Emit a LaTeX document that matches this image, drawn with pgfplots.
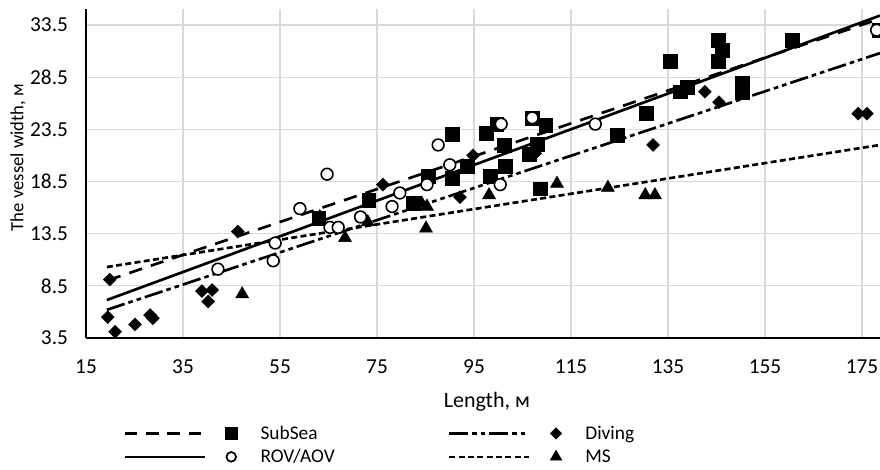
\documentclass[border=0pt]{standalone}
\usepackage{pgfplots}
\pgfplotsset{compat=1.18}
\usepackage{fontspec}
\setmainfont{Carlito}
\definecolor{gridgray}{RGB}{217,217,217}
\newcommand{\fs}{\fontsize{14.5pt}{16pt}\selectfont}
\newcommand{\ft}{\fontsize{16pt}{18pt}\selectfont}
\begin{document}
\begin{tikzpicture}
\begin{axis}[
  scale only axis,
  width=595.5pt, height=246.5pt,
  xmin=15, xmax=178.7, ymin=3.5, ymax=35,
  axis x line=bottom, axis y line=left,
  axis line style={line width=2pt, -},
  xtick={15,35,...,175},
  ytick={3.5,8.5,13.5,18.5,23.5,28.5,33.5},
  major tick length=0pt,
  grid=major,
  major grid style={gridgray, line width=0.9pt},
  /pgf/number format/assume math mode=true,
  yticklabel={\pgfmathprintnumber[fixed,fixed zerofill,precision=1]{\tick}},
  xticklabel={\pgfmathprintnumber[fixed,precision=0]{\tick}},
  tick label style={font=\ft},
  yticklabel style={xshift=-10pt},
  xticklabel style={yshift=-13pt},
  xlabel={Length, м},
  ylabel={The vessel width, м},
  xlabel style={font=\fontsize{16.5pt}{18pt}\selectfont, at={(axis description cs:0.505,-0.193)}, anchor=center},
  ylabel style={font=\fontsize{14pt}{16pt}\selectfont, at={(axis description cs:-0.0856,0.549)}, anchor=center},
  legend columns=2,
  legend style={draw=none, fill=none, font=\fs,
    at={(axis description cs:0.0466,-0.258)}, anchor=north west,
    inner sep=0pt,
    /tikz/every even column/.append style={column sep=83pt},
    row sep=2pt},
  legend cell align=left,
  clip marker paths=false,
]
% legend images
\addlegendimage{legend image code/.code={
  \draw[line width=2pt, dash pattern=on 9.5pt off 6.5pt] (0pt,0pt) -- (60pt,0pt);
  \draw[mark=square*, mark size=4.5pt] plot coordinates {(80pt,0pt)};
  \path[draw=none, fill=none] (0pt,0pt) -- (100pt,0pt);}}
\addlegendentry{SubSea}
\addlegendimage{legend image code/.code={
  \draw[line width=2pt, dash pattern=on 14pt off 3pt on 3.5pt off 3pt on 3.5pt off 3pt] (0pt,0pt) -- (60pt,0pt);
  \draw[mark=square*, mark size=3pt, mark options={rotate=45}] plot coordinates {(80pt,0pt)};
  \path[draw=none, fill=none] (0pt,0pt) -- (100pt,0pt);}}
\addlegendentry{Diving}
\addlegendimage{legend image code/.code={
  \draw[line width=2pt] (0pt,0pt) -- (60pt,0pt);
  \draw[mark=o, mark size=3.6pt, line width=1.3pt] plot coordinates {(80pt,0pt)};
  \path[draw=none, fill=none] (0pt,0pt) -- (100pt,0pt);}}
\addlegendentry{ROV/AOV}
\addlegendimage{legend image code/.code={
  \draw[line width=2pt, dash pattern=on 4.5pt off 2.5pt] (0pt,0pt) -- (60pt,0pt);
  \draw[mark=triangle*, mark size=5pt] plot coordinates {(80pt,0pt)};
  \path[draw=none, fill=none] (0pt,0pt) -- (100pt,0pt);}}
\addlegendentry{MS}

% trend lines
\addplot[forget plot, black, line width=2pt, dash pattern=on 10pt off 7pt] coordinates {(19.5,9.03) (178.7,34.1)};
\addplot[forget plot, black, line width=2pt] coordinates {(19.3,7.14) (178.7,34.4)};
\addplot[forget plot, black, line width=2pt, dash pattern=on 14pt off 3pt on 3.5pt off 3pt on 3.5pt off 3pt] coordinates {(19.3,6.2) (178.7,30.8)};
\addplot[forget plot, black, line width=2pt, dash pattern=on 4.5pt off 2.5pt] coordinates {(19.3,10.3) (178.7,22.0)};

% SubSea
\addplot[forget plot, only marks, mark=square*, mark size=5.2pt, black] table {
x y
63.0 15.0
73.3 16.7
82.4 16.4
85.5 19.0
90.5 23.0
90.5 18.8
93.6 20.0
97.6 23.1
99.7 24.0
98.3 19.0
101.2 22.0
101.4 20.0
106.3 21.1
108.0 22.1
107.0 24.6
108.6 17.8
109.8 23.9
124.5 22.9
130.5 25.0
135.4 30.0
137.5 27.1
138.9 27.5
145.3 32.0
145.3 30.0
146.1 31.1
150.3 27.9
150.3 27.0
160.6 32.0
178.5 33.0
};
% Diving
\addplot[forget plot, only marks, mark=square*, mark size=3.4pt, mark options={rotate=45}, black] table {
x y
19.9 9.1
19.5 5.5
21.0 4.1
25.1 4.8
28.2 5.7
28.8 5.4
38.9 8.0
41.0 8.1
40.2 7.0
46.3 13.7
76.2 18.2
92.1 17.0
94.8 21.0
107.6 21.2
131.9 22.0
142.6 27.1
145.5 26.1
174.2 25.0
176.0 25.0
};
% MS
\addplot[forget plot, only marks, mark=triangle*, mark size=5.6pt, black] table {
x y
47.2 7.7
63.2 15.1
68.4 13.1
73.1 14.6
82.8 16.4
84.2 16.4
85.3 16.1
85.1 14.0
98.1 17.2
112.1 18.3
122.6 17.9
130.3 17.2
132.3 17.2
};
% ROV/AOV
\addplot[forget plot, only marks, mark=*, mark size=4.4pt, black, mark options={fill=white, line width=1.2pt}] table {
x y
64.7 19.2
59.1 15.9
65.3 14.1
67.0 14.1
42.2 10.1
54.0 12.6
53.6 10.9
71.6 15.1
78.1 16.1
79.7 17.4
85.3 18.2
100.4 18.2
87.6 22.0
90.0 20.1
100.6 24.0
107.0 24.6
120.0 24.0
178.0 33.0
};
\end{axis}
\pgfresetboundingbox
\useasboundingbox (-64.5pt,-99pt) rectangle (595.5pt,253.5pt);
\end{tikzpicture}
\end{document}
